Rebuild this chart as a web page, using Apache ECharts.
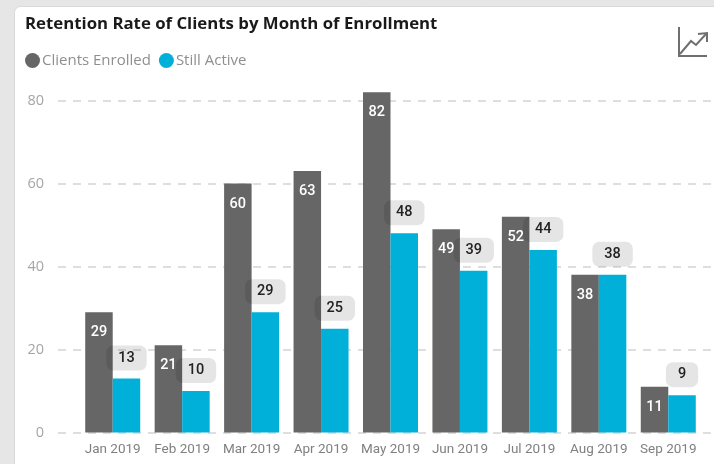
<!DOCTYPE html>
<html>
<head>
<meta charset="utf-8">
<style>
  html, body { margin: 0; padding: 0; background: #e6e6e6; }
  #chart { width: 714px; height: 464px; }
</style>
<script src="https://cdn.jsdelivr.net/npm/echarts@6/dist/echarts.min.js"></script>
</head>
<body>
<div id="chart"></div>
<script>
const months = ['Jan 2019', 'Feb 2019', 'Mar 2019', 'Apr 2019', 'May 2019', 'Jun 2019', 'Jul 2019', 'Aug 2019', 'Sep 2019']
const clientsEnrolled = [29, 21, 60, 63, 82, 49, 52, 38, 11]
const stillActive = [13, 10, 29, 25, 48, 39, 44, 38, 9]
const yTicks = { min: 0, max: 80, interval: 20 }
const barAxisMax = 84 // May 2019 goes over the top gridline

const chart = echarts.init(document.getElementById('chart'), null, { renderer: 'canvas' })

const option = {
  animation: false,
  backgroundColor: '#e6e6e6',
  title: {
    text: 'Retention Rate of Clients by Month of Enrollment',
    left: 20,
    top: 11,
    textStyle: { fontFamily: 'Open Sans', fontSize: 16.8, fontWeight: 'bold', color: '#1a1a1a' }
  },
  legend: {
    left: 20,
    top: 48,
    icon: 'circle',
    itemWidth: 15,
    itemHeight: 15,
    itemGap: 8,
    textStyle: { fontFamily: 'Open Sans', fontSize: 15, color: '#8f8f8f', padding: [0, 0, 0, -3] },
    data: ['Clients Enrolled', 'Still Active']
  },
  // the gridlines start left of the first bar, so they get their own grid
  grid: [
    { left: 58, top: 100.5, width: 670, height: 332 },
    { left: 78, top: 83.9, width: 625, height: 348.6 }
  ],
  xAxis: [
    { gridIndex: 0, type: 'value', show: false, min: 0, max: 1 },
    {
      gridIndex: 1,
      type: 'category',
      data: months,
      axisLine: { show: false },
      axisTick: { show: false },
      axisLabel: { interval: 0, fontFamily: 'Roboto', fontSize: 13.5, color: '#808080', margin: 10 }
    }
  ],
  yAxis: [
    {
      gridIndex: 0,
      type: 'value',
      min: yTicks.min,
      max: yTicks.max,
      interval: yTicks.interval,
      axisLine: { show: false },
      axisTick: { show: false },
      axisLabel: { fontFamily: 'Open Sans', fontSize: 14.5, color: '#a6a6a6', margin: 14 },
      splitLine: { lineStyle: { type: [8, 7], color: '#d4d4d4', width: 1.5 } }
    },
    {
      gridIndex: 1,
      type: 'value',
      show: false,
      min: yTicks.min,
      max: barAxisMax,
      splitLine: { show: false }
    }
  ],
  series: [
    {
      name: 'Clients Enrolled',
      type: 'bar',
      xAxisIndex: 1,
      yAxisIndex: 1,
      data: clientsEnrolled,
      barWidth: 27.5,
      barGap: 0,
      itemStyle: { color: '#666666' },
      label: {
        show: true,
        position: 'insideTop',
        distance: 13,
        fontFamily: 'Roboto',
        fontSize: 14.5,
        fontWeight: 500,
        color: '#ffffff'
      }
    },
    {
      name: 'Still Active',
      type: 'bar',
      xAxisIndex: 1,
      yAxisIndex: 1,
      data: stillActive,
      barWidth: 27.5,
      itemStyle: { color: '#00b0d8' },
      label: {
        show: true,
        position: 'top',
        distance: 8,
        fontFamily: 'Roboto',
        fontSize: 14.5,
        fontWeight: 500,
        color: '#222222',
        // black at low alpha: light on white, and the grey bars show through darker
        backgroundColor: 'rgba(0,0,0,0.1)',
        borderRadius: 7,
        padding: [5, 12, 5, 12]
      }
    }
  ],
  graphic: [
    // white card behind the chart
    {
      type: 'rect',
      z: -10,
      shape: { x: 14.5, y: 6.5, width: 760, height: 520, r: 6 },
      style: { fill: '#ffffff', stroke: '#d9d9d9' }
    },
    // trend icon, top right
    {
      type: 'polyline',
      shape: { points: [[679, 27], [679, 56], [707, 56]] },
      style: { fill: null, stroke: '#707070', lineWidth: 2 }
    },
    {
      type: 'polyline',
      shape: { points: [[680, 54], [691, 41], [696, 45], [706, 34]] },
      style: { fill: null, stroke: '#707070', lineWidth: 2 }
    },
    {
      type: 'polyline',
      shape: { points: [[698, 34], [707, 33], [707, 42]] },
      style: { fill: null, stroke: '#707070', lineWidth: 2 }
    }
  ]
}

chart.setOption(option)
</script>
</body>
</html>
